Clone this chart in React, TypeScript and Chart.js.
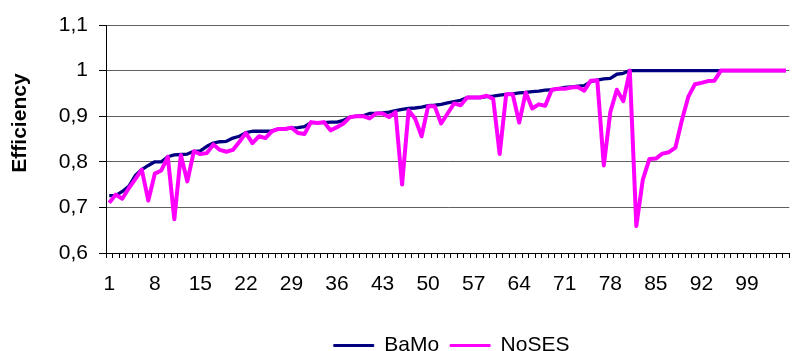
import React, { useEffect, useRef } from "react";
import { Chart, registerables } from "chart.js";

Chart.register(...registerables);

const categories = [
  "1","2","3","4","5","6","7","8","9","10","11","12","13","14","15","16","17","18","19","20",
  "21","22","23","24","25","26","27","28","29","30","31","32","33","34","35","36","37","38","39","40",
  "41","42","43","44","45","46","47","48","49","50","51","52","53","54","55","56","57","58","59","60",
  "61","62","63","64","65","66","67","68","69","70","71","72","73","74","75","76","77","78","79","80",
  "81","82","83","84","85","86","87","88","89","90","91","92","93","94","95","96","97","98","99","100",
  "101","102","103","104","105",
];

const xTickLabels = ["1","8","15","22","29","36","43","50","57","64","71","78","85","92","99"];

const bamo = [
  0.726, 0.726, 0.735, 0.746, 0.770, 0.783, 0.792, 0.800, 0.800, 0.811,
  0.815, 0.816, 0.817, 0.823, 0.824, 0.834, 0.841, 0.844, 0.845, 0.852,
  0.856, 0.864, 0.867, 0.867, 0.867, 0.868, 0.872, 0.872, 0.874, 0.875,
  0.877, 0.886, 0.886, 0.886, 0.887, 0.887, 0.891, 0.898, 0.900, 0.901,
  0.906, 0.906, 0.907, 0.909, 0.912, 0.915, 0.917, 0.918, 0.920, 0.923,
  0.924, 0.926, 0.929, 0.932, 0.935, 0.941, 0.941, 0.941, 0.943, 0.944,
  0.946, 0.948, 0.949, 0.951, 0.952, 0.954, 0.955, 0.957, 0.958, 0.960,
  0.963, 0.964, 0.966, 0.967, 0.976, 0.979, 0.982, 0.983, 0.992, 0.994,
  1, 1, 1, 1, 1, 1, 1, 1, 1, 1,
  1, 1, 1, 1, 1, 1, 1, 1, 1, 1,
  1, 1, 1, 1, 1,
];

const noses = [
  0.710, 0.728, 0.719, 0.742, 0.762, 0.783, 0.715, 0.774, 0.781, 0.811,
  0.674, 0.815, 0.757, 0.823, 0.817, 0.819, 0.838, 0.826, 0.822, 0.826,
  0.844, 0.863, 0.841, 0.856, 0.852, 0.867, 0.872, 0.872, 0.875, 0.863,
  0.861, 0.887, 0.885, 0.887, 0.869, 0.876, 0.884, 0.898, 0.900, 0.900,
  0.895, 0.906, 0.906, 0.898, 0.909, 0.750, 0.913, 0.895, 0.856, 0.922,
  0.922, 0.884, 0.906, 0.928, 0.924, 0.941, 0.941, 0.941, 0.945, 0.938,
  0.817, 0.948, 0.948, 0.886, 0.952, 0.917, 0.926, 0.923, 0.958, 0.960,
  0.960, 0.963, 0.964, 0.956, 0.978, 0.979, 0.792, 0.909, 0.958, 0.933,
  1.000, 0.659, 0.761, 0.806, 0.807, 0.818, 0.821, 0.831, 0.891, 0.943,
  0.970, 0.973, 0.977, 0.978, 1, 1, 1, 1, 1, 1,
  1, 1, 1, 1, 1,
];

const seriesNames = ["BaMo", "NoSES"];
const seriesColors = ["#000080", "#FF00FF"];
const yTitle = "Efficiency";
const FONT = '"Liberation Sans", Arial, sans-serif';

const yTitlePlugin = {
  id: "yTitleCustom",
  afterDraw(chart: any) {
    const ctx = chart.ctx;
    const cy = chart.chartArea.top + (chart.chartArea.bottom - chart.chartArea.top) * 0.43;
    ctx.save();
    ctx.translate(20, cy);
    ctx.rotate(-Math.PI / 2);
    ctx.font = `bold 21px ${FONT}`;
    ctx.textAlign = "center";
    ctx.textBaseline = "middle";
    ctx.fillStyle = "#000";
    ctx.fillText(yTitle, 0, 0);
    ctx.restore();
  },
};

const legendShiftPlugin = {
  id: "legendShift",
  afterLayout(chart: any) {
    const lg = chart.legend;
    if (!lg) return;
    lg.left = chart.chartArea.left + 4;
    lg.right = chart.chartArea.right + 4;
    lg.width = lg.right - lg.left;
    const h = lg.height;
    lg.top = chart.chartArea.bottom + 71;
    lg.bottom = lg.top + h;
  },
};

export default function App() {
  const ref = useRef<HTMLCanvasElement | null>(null);

  useEffect(() => {
    if (!ref.current) return;
    const chart = new Chart(ref.current, {
      type: "line",
      data: {
        labels: categories,
        datasets: [
          {
            label: seriesNames[0],
            data: bamo,
            borderColor: seriesColors[0],
            backgroundColor: seriesColors[0],
            borderWidth: 3.3,
            borderJoinStyle: "round",
            pointRadius: 0,
            tension: 0,
            order: 1,
          },
          {
            label: seriesNames[1],
            data: noses,
            borderColor: seriesColors[1],
            backgroundColor: seriesColors[1],
            borderWidth: 4,
            borderJoinStyle: "round",
            pointRadius: 0,
            tension: 0,
            order: 0,
          },
        ],
      },
      options: {
        animation: false,
        responsive: false,
        maintainAspectRatio: false,
        layout: { padding: { top: 25, right: 0, bottom: 0, left: 0 } },
        plugins: {
          tooltip: { enabled: false },
          legend: {
            position: "bottom",
            labels: {
              boxWidth: 40,
              boxHeight: 2,
              padding: 11,
              color: "#000",
              font: { family: FONT, size: 21 },
              sort: (a: any, b: any) => a.datasetIndex - b.datasetIndex,
              generateLabels: (chart: any) =>
                Chart.defaults.plugins.legend.labels
                  .generateLabels(chart)
                  .map((l: any) => ({ ...l, lineWidth: 1 })),
            },
          },
        },
        scales: {
          x: {
            type: "category",
            offset: true,
            grid: {
              display: true,
              drawOnChartArea: false,
              drawTicks: true,
              tickLength: 5,
              offset: true,
              tickColor: "#000",
            },
            border: { display: true, color: "#000", width: 1 },
            ticks: {
              autoSkip: false,
              maxRotation: 0,
              minRotation: 0,
              padding: 14,
              color: "#000",
              font: { family: FONT, size: 21 },
              callback: (_v: any, i: number) =>
                xTickLabels.includes(categories[i]) ? categories[i] : "",
            },
            afterFit: (s: any) => {
              s.height = 56;
            },
          },
          y: {
            min: 0.6,
            max: 1.1,
            grid: {
              color: "#606060",
              lineWidth: 1,
              tickLength: 7,
              tickColor: "#000",
            },
            border: { display: true, color: "#000", width: 1 },
            ticks: {
              stepSize: 0.1,
              padding: 11,
              color: "#000",
              font: { family: FONT, size: 21 },
              callback: (v: any) => String(Number(Number(v).toFixed(1))).replace(".", ","),
            },
            afterFit: (s: any) => {
              s.width = 106;
            },
          },
        },
      },
      plugins: [yTitlePlugin, legendShiftPlugin],
    });
    return () => chart.destroy();
  }, []);

  return (
    <div
      style={{
        position: "fixed",
        left: 0,
        top: 0,
        width: 797,
        height: 351,
        overflow: "hidden",
        background: "#fff",
      }}
    >
      <canvas ref={ref} width={800} height={351} style={{ display: "block" }} />
    </div>
  );
}
